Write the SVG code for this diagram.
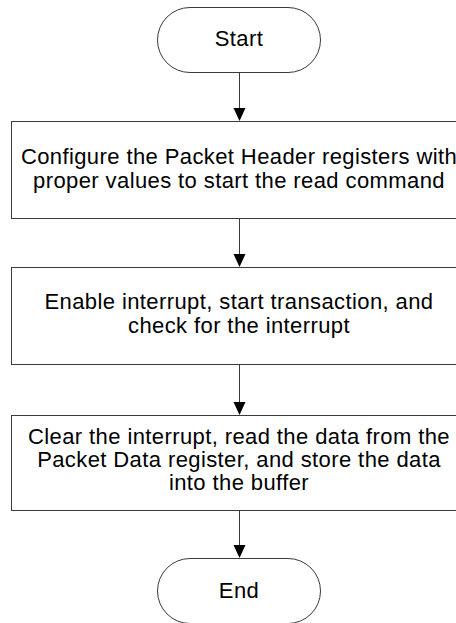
<svg xmlns="http://www.w3.org/2000/svg" width="456" height="623" viewBox="0 0 456 623">
<style>
.shape{fill:#fff;stroke:#3a3a3a;stroke-width:1}
.t{font-family:"Liberation Sans",Arial,sans-serif;font-size:22px;letter-spacing:0.4px;fill:#000;text-anchor:middle}
.ln{stroke:#3a3a3a;stroke-width:1}
.ah{fill:#000}
</style>
<rect width="456" height="623" fill="#fff"/>
<g id="start"><rect class="shape" x="157.5" y="7.5" width="163" height="65" rx="32.5"/><text class="t" x="239" y="46">Start</text></g>
<g id="step1"><rect class="shape" x="11.5" y="121.5" width="456" height="97"/><text class="t" x="239" y="164">Configure the Packet Header registers with</text><text class="t" x="239" y="188">proper values to start the read command</text></g>
<g id="step2"><rect class="shape" x="11.5" y="267.5" width="456" height="97"/><text class="t" x="239" y="309">Enable interrupt, start transaction, and</text><text class="t" x="239" y="333">check for the interrupt</text></g>
<g id="step3"><rect class="shape" x="11.5" y="415.5" width="456" height="95"/><text class="t" x="239" y="444">Clear the interrupt, read the data from the</text><text class="t" x="239" y="467">Packet Data register, and store the data</text><text class="t" x="239" y="490">into the buffer</text></g>
<g id="end"><rect class="shape" x="157.5" y="558.5" width="163" height="65" rx="32.5"/><text class="t" x="239" y="598">End</text></g>
<g id="connectors">
<line class="ln" x1="239.5" y1="72" x2="239.5" y2="108"/><path class="ah" d="M233.5,108 L245.5,108 L239.5,121 Z"/>
<line class="ln" x1="239.5" y1="218" x2="239.5" y2="254"/><path class="ah" d="M233.5,254 L245.5,254 L239.5,267 Z"/>
<line class="ln" x1="239.5" y1="364" x2="239.5" y2="402"/><path class="ah" d="M233.5,402 L245.5,402 L239.5,415 Z"/>
<line class="ln" x1="239.5" y1="510" x2="239.5" y2="545"/><path class="ah" d="M233.5,545 L245.5,545 L239.5,558 Z"/>
</g>
</svg>
